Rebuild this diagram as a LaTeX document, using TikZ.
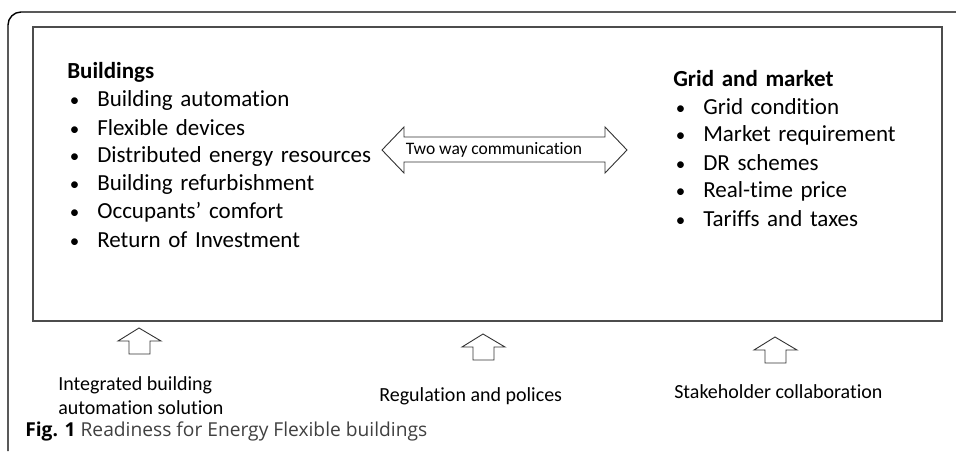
\documentclass[tikz,border=0pt]{standalone}
\usepackage{fontspec}
\setmainfont[Ligatures=NoCommon]{Carlito}
\newfontfamily\capfont{Open Sans}
\usetikzlibrary{positioning}

% bullet in front of each list line
\newcommand{\itemdot}{\makebox[30pt][l]{\hspace{2.5pt}{\fontsize{19}{19}\selectfont\textbullet}}}

\begin{document}
\begin{tikzpicture}[
            x = 1pt, y = -1pt, % pixel-like units, y downwards
            node distance = 28pt, % distance between list lines
            line join = miter,
            semithick % line style
        ]

        \tikzstyle{heading}=[
            font = \fontsize{23}{28}\selectfont\bfseries,
            text width = 330pt,
            inner sep = 0pt,
            align = left
        ]
        \tikzstyle{item}=[
            font = \fontsize{23}{28}\selectfont,
            text width = 330pt,
            inner sep = 0pt,
            align = left
        ]
        \tikzstyle{label}=[
            font = \fontsize{20}{24}\selectfont,
            inner sep = 0pt,
            align = left,
            anchor = west
        ]

        \useasboundingbox (0,0) rectangle (956,451);

        % frame of the figure
        \draw[line width = 1.4pt, rounded corners = 13pt] (8,451) -- (8,12) -- (956,12);
        \draw[line width = 1.1pt, black!70] (33,27) rectangle (942,321);

        % buildings side
        \node (b) [heading, anchor = west] at (67,72) {Buildings};
        \node (b1) [item, below of=b] {\itemdot Building automation};
        \node (b2) [item, below of=b1] {\itemdot Flexible devices};
        \node (b3) [item, below of=b2] {\itemdot Distributed energy resources};
        \node (b4) [item, below of=b3] {\itemdot Building refurbishment};
        \node (b5) [item, below of=b4] {\itemdot Occupants’ comfort};
        \node (b6) [item, below of=b5] {\itemdot Return of Investment};

        % grid and market side
        \node (g) [heading, text width = 240pt, anchor = west] at (673,79) {Grid and market};
        \node (g1) [item, text width = 240pt, below of=g] {\itemdot Grid condition};
        \node (g2) [item, text width = 240pt, below of=g1] {\itemdot Market requirement};
        \node (g3) [item, text width = 240pt, below of=g2] {\itemdot DR schemes};
        \node (g4) [item, text width = 240pt, below of=g3] {\itemdot Real-time price};
        \node (g5) [item, text width = 240pt, below of=g4] {\itemdot Tariffs and taxes};

        % two way arrow
        \draw[line width = 0.9pt, black!80] (382,150) -- (404,127) -- (404,137) -- (605,137) -- (605,127)
            -- (627,150) -- (605,173) -- (605,162) -- (404,162) -- (404,173) -- cycle;
        \node (comm) [font = \fontsize{17.5}{21}\selectfont] at (494,150) {Two way communication};

        % upward arrows
        \foreach \x/\y in {139/328, 483/334, 775/337}
            \draw[line width = 0.9pt, black!80] (\x,\y) -- (\x+22,\y+13) -- (\x+11,\y+13) -- (\x+11,\y+26)
                -- (\x-10,\y+26) -- (\x-10,\y+13) -- (\x-21,\y+13) -- cycle;

        \node (s1) [label] at (58,396) {Integrated building\\automation solution};
        \node (s2) [label] at (379,396) {Regulation and polices};
        \node (s3) [label] at (674,392) {Stakeholder collaboration};

        % caption
        \node (cap) [anchor = west, inner sep = 0pt, font = \capfont\fontsize{19.2}{22}\selectfont]
            at (25,431) {\textbf{Fig. 1} \textcolor{black!75}{Readiness for Energy Flexible buildings}};
    \end{tikzpicture}
\end{document}
